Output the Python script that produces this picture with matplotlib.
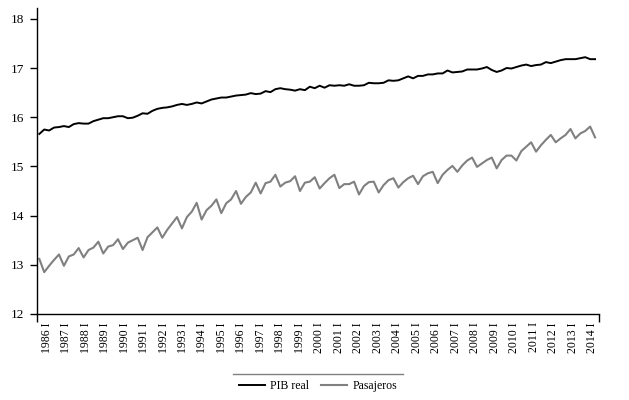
import matplotlib
matplotlib.use("Agg")
import matplotlib.pyplot as plt
from matplotlib.lines import Line2D
import numpy as np

plt.rcParams['font.family'] = ['Liberation Serif', 'DejaVu Serif']

# trimestral 1986 I - 2014 II (logaritmos)
years = list(range(1986, 2015))
tick_labels = [f"{y} I" for y in years]

pib_real = [
    15.66, 15.75, 15.73, 15.79, 15.80, 15.82, 15.80, 15.86, 15.88, 15.87,
    15.87, 15.92, 15.95, 15.98, 15.98, 16.00, 16.02, 16.02, 15.98, 15.99,
    16.03, 16.08, 16.07, 16.13, 16.17, 16.19, 16.20, 16.22, 16.25, 16.27,
    16.25, 16.27, 16.30, 16.28, 16.32, 16.36, 16.38, 16.40, 16.40, 16.42,
    16.44, 16.45, 16.46, 16.49, 16.47, 16.48, 16.53, 16.51, 16.57, 16.59,
    16.57, 16.56, 16.54, 16.57, 16.55, 16.62, 16.59, 16.64, 16.60, 16.65,
    16.64, 16.65, 16.64, 16.67, 16.64, 16.64, 16.65, 16.70, 16.69, 16.69,
    16.70, 16.75, 16.74, 16.75, 16.79, 16.83, 16.79, 16.84, 16.84, 16.87,
    16.87, 16.89, 16.89, 16.95, 16.91, 16.92, 16.93, 16.97, 16.97, 16.97,
    16.99, 17.02, 16.96, 16.92, 16.95, 17.00, 16.99, 17.02, 17.05, 17.07,
    17.04, 17.06, 17.07, 17.12, 17.10, 17.13, 17.16, 17.18, 17.18, 17.18,
    17.20, 17.22, 17.18, 17.18,
]

pasajeros = [
    13.12, 12.85, 12.98, 13.10, 13.21, 12.98, 13.17, 13.21, 13.34, 13.15,
    13.30, 13.35, 13.47, 13.23, 13.37, 13.40, 13.52, 13.32, 13.45, 13.50,
    13.55, 13.30, 13.56, 13.66, 13.76, 13.55, 13.71, 13.84, 13.97, 13.74,
    13.97, 14.08, 14.26, 13.92, 14.11, 14.20, 14.33, 14.05, 14.25, 14.33,
    14.50, 14.24, 14.38, 14.47, 14.67, 14.45, 14.66, 14.69, 14.83, 14.59,
    14.67, 14.70, 14.80, 14.50, 14.67, 14.69, 14.78, 14.55, 14.66, 14.76,
    14.83, 14.56, 14.64, 14.64, 14.69, 14.43, 14.60, 14.68, 14.69, 14.47,
    14.62, 14.72, 14.76, 14.57, 14.68, 14.76, 14.81, 14.64, 14.80, 14.86,
    14.89, 14.66, 14.83, 14.93, 15.01, 14.89, 15.02, 15.12, 15.18, 14.99,
    15.06, 15.13, 15.18, 14.96, 15.13, 15.22, 15.22, 15.12, 15.31, 15.40,
    15.49, 15.30, 15.43, 15.54, 15.64, 15.49, 15.57, 15.64, 15.76, 15.57,
    15.67, 15.72, 15.81, 15.59,
]

t = np.arange(len(pib_real))

fig = plt.figure(figsize=(6.29, 4.0), dpi=100)
ax = fig.add_axes([37/629, 86/400, 562/629, 306/400])

ax.plot(t, pib_real, color='black', lw=1.4, label='PIB real')
ax.plot(t, pasajeros, color='#808080', lw=1.5, label='Pasajeros')

ax.set_xlim(-0.47, 113.8)
ax.set_ylim(12, 18.22)

ax.spines['top'].set_visible(False)
ax.spines['right'].set_visible(False)
for s in ['left', 'bottom']:
    ax.spines[s].set_linewidth(1.0)

ax.set_yticks([12, 13, 14, 15, 16, 17, 18])
ax.tick_params(axis='y', length=5, width=1, pad=4.5, labelsize=9.5)

# marcas en los extremos del eje x, etiquetas por año
ax.set_xticks([-0.47, 113.8])
ax.set_xticklabels(['', ''])
ax.tick_params(axis='x', which='major', length=6, width=1)
ax.set_xticks([3.96 * i + 1.5 for i in range(len(years))], minor=True)
ax.set_xticklabels(tick_labels, minor=True, rotation=90, fontsize=8.5)
ax.tick_params(axis='x', which='minor', length=0, pad=6)

# leyenda abajo con línea superior
fig.legend(loc='center', bbox_to_anchor=(318/629, 1 - 386/400), ncol=2,
           frameon=False, fontsize=8.5, handlelength=2.2, handletextpad=0.45,
           columnspacing=1.0)
fig.add_artist(Line2D([233/629, 403/629], [1 - 374/400, 1 - 374/400],
                      color='#808080', lw=1.0))

fig.savefig('out.png', dpi=100)
